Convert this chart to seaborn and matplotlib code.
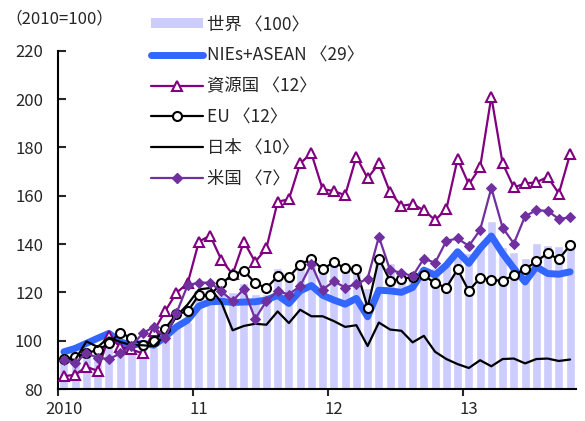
import numpy as np
import matplotlib
matplotlib.use("Agg")
import matplotlib.pyplot as plt
import seaborn as sns
from matplotlib.patches import Patch
from matplotlib.lines import Line2D

# monthly index, 2010/01 - 2013/10 (2010=100)
months = np.arange(46)
year_labels = ["2010", "11", "12", "13"]

world = [92, 92.5, 95, 96, 97.5, 97, 96.5, 97, 97.5, 101, 105.7, 107.8,
         120.9, 121.6, 120.9, 120.2, 123.7, 119.5, 119.5, 129.9, 127.1, 134, 134, 131,
         132.6, 129.9, 131.3, 121.6, 134, 132, 128.5, 127.1, 130.6, 129.9, 131.3, 137.5,
         136.1, 139.5, 149.5, 138.9, 136.5, 134.4, 140.5, 139.5, 139.1, 139]
nies_asean = [95.4, 96.8, 98.9, 101, 103, 99.5, 98.1, 98.9, 98.1, 101.6, 105.7, 108.5,
              114.3, 116.1, 116.3, 115.8, 116, 116.1, 116.8, 118.8, 115.4, 120.6, 122.8, 118.8,
              116.8, 115.1, 117.5, 109.9, 120.9, 120.6, 120, 122, 129.2, 127.1, 131.3, 136.8,
              132, 138.2, 143.3, 136.1, 129.9, 124.3, 130.6, 127.8, 127.5, 128.5]
resource = [85.3, 85.9, 89.2, 87.5, 101.9, 97.4, 96.4, 94.7, 104, 112.2, 119.8, 123.7,
            141, 143.5, 133.4, 127.5, 141, 132.6, 138.2, 157.5, 158.5, 173.4, 177.5, 162.7,
            161.9, 160.2, 176.1, 167.2, 173.4, 161.4, 155.8, 156.5, 154.0, 149.9, 154.4, 175.2,
            164.7, 171.7, 201.0, 173.4, 163.4, 165.1, 165.5, 167.8, 160.9, 177.2]
eu = [92.4, 93.3, 95.0, 96.0, 98.9, 103.3, 101.1, 98.3, 99.8, 105, 111, 112.1,
      118.9, 118.9, 123.7, 127.3, 129.0, 123.8, 121.8, 126.6, 126.3, 131.5, 133.8, 129.5,
      132.6, 129.9, 129.5, 113.7, 134, 124.8, 125.5, 126.4, 127.1, 123.7, 122, 129.5,
      120.6, 126, 125.1, 124.8, 127.1, 129.5, 132.9, 136.1, 133.7, 139.5]
japan = [92.6, 92.0, 99.7, 97.4, 101.3, 99.5, 98.1, 98.1, 97.7, 102.3, 110.1, 115,
         121.2, 121.8, 115.8, 104.3, 106.1, 107.0, 106.6, 112.1, 107.3, 112.8, 110.1, 110.1,
         108.1, 105.7, 106.4, 97.8, 107.5, 104.6, 104.1, 99.3, 102.0, 95.4, 92.4, 90.3,
         88.7, 91.9, 89.4, 92.4, 92.6, 90.6, 92.4, 92.6, 91.6, 92.2]
usa = [91.8, 90.9, 94.7, 93.0, 92.4, 94.7, 97.8, 103, 105.8, 101.2, 111.3, 123,
       124, 124, 120.4, 116.4, 121.4, 109, 116.4, 120.5, 119.1, 122.6, 131.7, 121.1,
       124.6, 122, 123.4, 125.7, 143, 129.2, 128.1, 126.7, 134, 132.2, 141.3, 142.3,
       139.2, 145.8, 163.2, 146.8, 140.2, 151.5, 154, 153.7, 150.4, 151]

labels = ["世界\u2009〈100〉", "NIEs+ASEAN\u2009〈29〉", "資源国\u2009〈12〉",
          "EU\u2009〈12〉", "日本\u2009〈10〉", "米国\u2009〈7〉"]

sns.set_style("white")
plt.rcParams["font.family"] = ["Noto Sans CJK JP", "DejaVu Sans"]
plt.rcParams["font.size"] = 12

fig = plt.figure(figsize=(5.85, 4.21), dpi=100)
ax = fig.add_axes([58.3 / 585, 1 - 389 / 421, (575.7 - 58.3) / 585, (389 - 50.7) / 421])

sns.barplot(x=months, y=world, native_scale=True, width=0.8, color="#CCCCFF",
            saturation=1, ax=ax, zorder=1)
sns.lineplot(x=months, y=nies_asean, color="#3366FF", linewidth=5, ax=ax, zorder=2)
sns.lineplot(x=months, y=resource, color="#800080", linewidth=1.6, marker="^",
             markersize=7, markerfacecolor="white", markeredgecolor="#800080",
             markeredgewidth=1.5, ax=ax, zorder=3)
sns.lineplot(x=months, y=eu, color="black", linewidth=1.6, marker="o",
             markersize=6.5, markerfacecolor="white", markeredgecolor="black",
             markeredgewidth=1.5, ax=ax, zorder=4)
sns.lineplot(x=months, y=japan, color="black", linewidth=1.6, ax=ax, zorder=5)
sns.lineplot(x=months, y=usa, color="#7030A0", linewidth=1.6, marker="D",
             markersize=5.5, markerfacecolor="#7030A0", markeredgecolor="#7030A0",
             ax=ax, zorder=6)

ax.set_xlim(-0.5, 45.5)
ax.set_ylim(80, 220)
ax.set_yticks(range(80, 221, 20))
ax.set_xticks([0, 12, 24, 36])
ax.set_xticklabels(year_labels)
ax.set_xticks([-0.5, 11.5, 23.5, 35.5], minor=True)
ax.tick_params(axis="x", which="major", length=0, pad=9, labelsize=12)
ax.tick_params(axis="x", which="minor", length=5, width=1.5, direction="out", bottom=True)
ax.tick_params(axis="y", length=6, width=1.5, direction="in", pad=11, labelsize=12, left=True)
ax.set_xlabel("")
ax.set_ylabel("")
for s in ["top", "right"]:
    ax.spines[s].set_visible(False)
for s in ["left", "bottom"]:
    ax.spines[s].set_linewidth(1.5)
    ax.spines[s].set_color("black")

handles = [
    Patch(facecolor="#CCCCFF", edgecolor="none"),
    Line2D([], [], color="#3366FF", linewidth=5, solid_capstyle="round"),
    Line2D([], [], color="#800080", linewidth=1.6, marker="^", markersize=7,
           markerfacecolor="white", markeredgewidth=1.5),
    Line2D([], [], color="black", linewidth=1.6, marker="o", markersize=6.5,
           markerfacecolor="white", markeredgewidth=1.5),
    Line2D([], [], color="black", linewidth=1.6),
    Line2D([], [], color="#7030A0", linewidth=1.6, marker="D", markersize=5.5),
]
fig.legend(handles, labels, loc="upper left", bbox_to_anchor=(151 / 585, 1 - 15.5 / 421),
           frameon=False, handlelength=3.0, handleheight=0.5, handletextpad=0.25,
           labelspacing=0.74, borderaxespad=0, borderpad=0, fontsize=12.5)

fig.text(5 / 585, 1 - 19 / 421, "（2010=100）", va="center", ha="left", fontsize=12)

fig.savefig("out.png", dpi=100)
